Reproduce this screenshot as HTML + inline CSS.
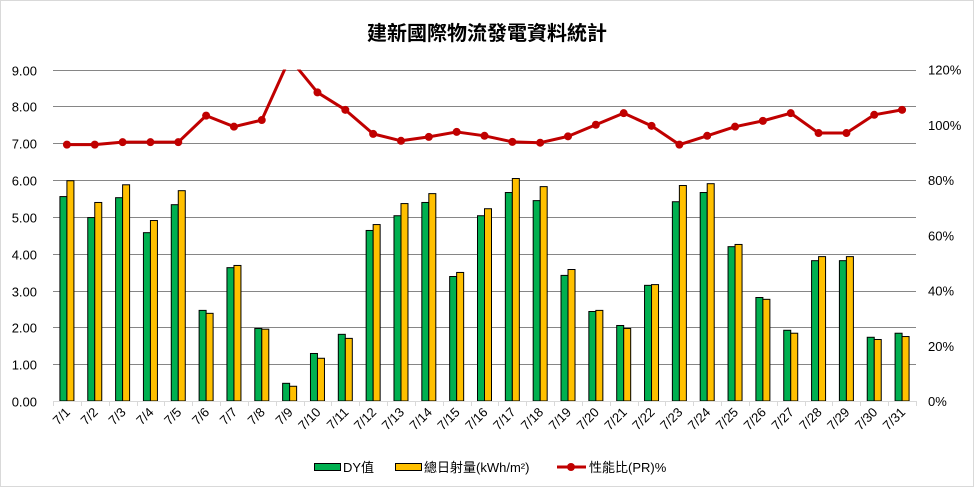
<!DOCTYPE html>
<html><head><meta charset="utf-8"><style>
body{margin:0;background:#fff}
svg{display:block;font-family:"Liberation Sans","Noto Sans CJK TC",sans-serif}
</style></head><body>
<svg id="chart" width="975" height="488" viewBox="0 0 975 488" xmlns="http://www.w3.org/2000/svg">
<rect x="0.5" y="0.5" width="973" height="486" fill="#fff" stroke="#d9d9d9"/>
<text x="487" y="40" text-anchor="middle" font-size="20" font-weight="bold" fill="#000">建新國際物流發電資料統計</text>
<g id="grid"></g><g id="bars"></g><g id="line"></g><g id="axes"></g>
<g>
<rect x="314.5" y="463.5" width="26" height="7" fill="#00b050" stroke="#000"/>
<text x="343" y="472" font-size="13">DY值</text>
<rect x="395.5" y="463.5" width="26" height="7" fill="#ffc000" stroke="#000"/>
<text x="424" y="472" font-size="13">總日射量(kWh/m²)</text>
<line x1="557" y1="467" x2="586" y2="467" stroke="#c00000" stroke-width="3"/>
<circle cx="571" cy="467" r="4" fill="#c00000"/>
<text x="589" y="472" font-size="13">性能比(PR)%</text>
</g>
</svg>
<script>
const categories=["7/1","7/2","7/3","7/4","7/5","7/6","7/7","7/8","7/9","7/10","7/11","7/12","7/13","7/14","7/15","7/16","7/17","7/18","7/19","7/20","7/21","7/22","7/23","7/24","7/25","7/26","7/27","7/28","7/29","7/30","7/31"];
const dyValues=[5.55,4.98,5.52,4.57,5.33,2.46,3.62,1.97,0.48,1.29,1.81,4.63,5.03,5.39,3.38,5.03,5.66,5.44,3.41,2.43,2.05,3.14,5.41,5.66,4.19,2.81,1.92,3.81,3.81,1.73,1.84];
const irrValues=[5.98,5.39,5.87,4.90,5.71,2.38,3.68,1.95,0.40,1.16,1.70,4.79,5.36,5.63,3.49,5.22,6.04,5.82,3.57,2.46,1.97,3.16,5.85,5.90,4.25,2.76,1.84,3.92,3.92,1.67,1.75];
const prValues=[92.8,92.8,93.7,93.7,93.7,103.3,99.3,101.7,124,111.7,105.4,96.7,94.2,95.6,97.4,96.0,93.8,93.5,95.8,100,104.2,99.6,92.8,96,99.3,101.4,104.2,97,97,103.6,105.4];
const leftTicks=["0.00","1.00","2.00","3.00","4.00","5.00","6.00","7.00","8.00","9.00"];
const rightTicks=["0%","20%","40%","60%","80%","100%","120%"];
const NS="http://www.w3.org/2000/svg";
const X0=53,X1=916,YT=69.5,YB=401;
const step=(X1-X0)/categories.length;
function xc(i){return X0+step*(i+0.5);}
function yL(v){return YB-(YB-YT)*v/9;}
function yR(p){return YB-(YB-YT)*p/120;}
function mk(tag,attrs,parent){const e=document.createElementNS(NS,tag);for(const k in attrs)e.setAttribute(k,attrs[k]);parent.appendChild(e);return e;}
const grid=document.getElementById('grid'),bars=document.getElementById('bars'),line=document.getElementById('line'),axes=document.getElementById('axes');
leftTicks.forEach((t,i)=>{const v=parseFloat(t);const y=Math.round(yL(v))+0.5;
 if(i>0){const g=mk('line',{x1:X0,x2:X1,y1:y,y2:y,stroke:'#868686','stroke-width':1},grid);
 
 }
 const tx=mk('text',{x:37,y:y+5,'text-anchor':'end','font-size':13},axes);tx.textContent=t;
 
 });
rightTicks.forEach(t=>{const v=parseFloat(t);const y=yR(v);
 const tx=mk('text',{x:928,y:y+5,'font-size':13},axes);tx.textContent=t;
 
 });
const ax=mk('line',{x1:X0,x2:X1,y1:YB+0.5,y2:YB+0.5,stroke:'#d9d9d9'},axes);


for(let i=0;i<=categories.length;i++){const x=Math.round(X0+step*i)+0.5;
 const tk=mk('line',{x1:x,x2:x,y1:YB,y2:YB+5,stroke:'#d9d9d9'},axes);
 
 }
const bw=7;
categories.forEach((c,i)=>{const cx=xc(i);
 const g=mk('rect',{x:cx-bw,y:yL(dyValues[i]),width:bw,height:YB-yL(dyValues[i]),fill:'#00b050',stroke:'#000','stroke-width':1},bars);
 
 
 const yb=mk('rect',{x:cx,y:yL(irrValues[i]),width:bw,height:YB-yL(irrValues[i]),fill:'#ffc000',stroke:'#000','stroke-width':1},bars);
 
 
 const tx=mk('text',{x:0,y:0,'text-anchor':'end','font-size':13,transform:'translate('+(cx+4)+','+(YB+12)+') rotate(-45)'},axes);
 tx.textContent=c;
 
 });
mk('clipPath',{id:'clip'},line).appendChild(Object.assign(document.createElementNS(NS,'rect'),{}));
const cr=line.querySelector('clipPath rect');cr.setAttribute('x',0);cr.setAttribute('y',YT);cr.setAttribute('width',975);cr.setAttribute('height',YB-YT);
const lg=mk('g',{'clip-path':'url(#clip)'},line);
const pts=prValues.map((p,i)=>xc(i)+','+yR(p)).join(' ');
const pl=mk('polyline',{points:pts,fill:'none',stroke:'#c00000','stroke-width':3,'stroke-linejoin':'round'},lg);


prValues.forEach((p,i)=>{const m=mk('circle',{cx:xc(i),cy:yR(p),r:4,fill:'#c00000'},lg);
 
 });
</script>
</body></html>
